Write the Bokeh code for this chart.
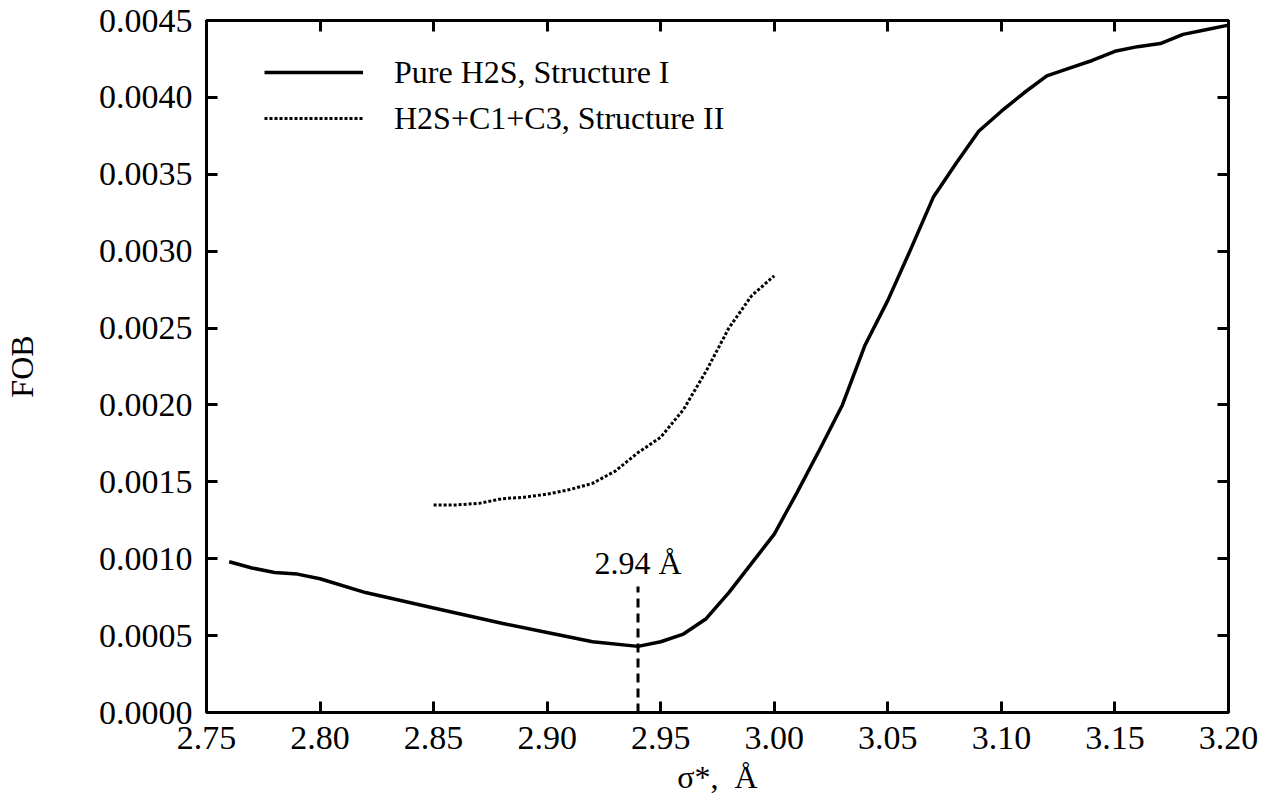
from bokeh.plotting import figure
from bokeh.models import (LinearAxis, FixedTicker, PrintfTickFormatter, CustomJSTickFormatter,
                          Range1d, Legend, LegendItem, Label, Title)
from bokeh.embed import file_html
from bokeh.resources import INLINE

# ---- data ----
x_pure = [2.76, 2.77, 2.78, 2.79, 2.80, 2.82, 2.85, 2.88, 2.90, 2.92, 2.94, 2.95, 2.96,
          2.97, 2.98, 2.99, 3.00, 3.01, 3.02, 3.03, 3.04, 3.05, 3.06, 3.07, 3.08, 3.09,
          3.10, 3.11, 3.12, 3.13, 3.14, 3.15, 3.16, 3.17, 3.18, 3.19, 3.20]
y_pure = [0.00098, 0.00094, 0.00091, 0.00090, 0.00087, 0.00078, 0.00068, 0.00058, 0.00052,
          0.00046, 0.00043, 0.00046, 0.00051, 0.00061, 0.00078, 0.00097, 0.00116, 0.00143,
          0.00171, 0.00200, 0.00239, 0.00268, 0.00301, 0.00335, 0.00357, 0.00378, 0.00391,
          0.00403, 0.00414, 0.00419, 0.00424, 0.00430, 0.00433, 0.00435, 0.00441, 0.00444,
          0.00447]
x_mix = [2.85, 2.86, 2.87, 2.88, 2.89, 2.90, 2.91, 2.92, 2.93, 2.94, 2.95, 2.96, 2.97,
         2.98, 2.99, 3.00]
y_mix = [0.00135, 0.00135, 0.00136, 0.00139, 0.00140, 0.00142, 0.00145, 0.00149, 0.00157,
         0.00169, 0.00179, 0.00197, 0.00222, 0.00250, 0.00271, 0.00284]
x_ticks = [2.75, 2.80, 2.85, 2.90, 2.95, 3.00, 3.05, 3.10, 3.15, 3.20]
y_ticks = [0.0, 0.0005, 0.0010, 0.0015, 0.0020, 0.0025, 0.0030, 0.0035, 0.0040, 0.0045]
min_x = [2.94]
min_y = [0.00082]
min_label = "2.94 Å"
series_names = ["Pure H2S, Structure I", "H2S+C1+C3, Structure II"]
x_title = "σ*,\u00a0\u00a0Å"

FONT = "Liberation Serif"

p = figure(width=1265, height=807, output_backend="svg", toolbar_location=None,
           x_range=Range1d(2.75, 3.20), y_range=Range1d(0.0, 0.0045),
           x_axis_type=None, y_axis_type=None,
           min_border_left=205, min_border_right=37, min_border_top=20, min_border_bottom=95)
p.xgrid.visible = False
p.ygrid.visible = False
p.outline_line_color = "black"
p.outline_line_width = 3
p.background_fill_color = "white"
p.border_fill_color = "white"

def style_axis(ax, show_labels):
    ax.axis_line_width = 3
    ax.axis_line_color = "black"
    ax.major_tick_in = 11
    ax.major_tick_out = 0
    ax.major_tick_line_width = 3
    ax.minor_tick_line_color = None
    ax.major_label_text_font = FONT
    ax.major_label_text_font_size = "34px"
    ax.major_label_text_color = "black"
    if not show_labels:
        ax.formatter = CustomJSTickFormatter(code="return ''")
        ax.major_label_standoff = 0

xb = LinearAxis(ticker=FixedTicker(ticks=x_ticks), formatter=PrintfTickFormatter(format="%.2f"))
style_axis(xb, True)
xb.major_label_standoff = 14
p.add_layout(xb, "below")

# x axis title (offset to the left of center as in the reference)
p.add_layout(Title(text=x_title, align="center", offset=-27, text_font=FONT,
                   text_font_size="32px", text_font_style="normal", text_color="black",
                   vertical_align="bottom", standoff=11), "below")

xt = LinearAxis(ticker=FixedTicker(ticks=x_ticks))
style_axis(xt, False)
p.add_layout(xt, "above")

yl = LinearAxis(ticker=FixedTicker(ticks=y_ticks), formatter=PrintfTickFormatter(format="%.4f"))
style_axis(yl, True)
yl.major_label_standoff = 14
yl.axis_label = "FOB"
yl.axis_label_text_font = FONT
yl.axis_label_text_font_size = "32px"
yl.axis_label_text_font_style = "normal"
yl.axis_label_text_color = "black"
yl.axis_label_standoff = 56
p.add_layout(yl, "left")

yr = LinearAxis(ticker=FixedTicker(ticks=y_ticks))
style_axis(yr, False)
p.add_layout(yr, "right")

r_pure = p.line(x_pure, y_pure, line_color="black", line_width=3.5)
r_mix = p.line(x_mix, y_mix, line_color="black", line_width=3, line_dash="3 2")

# minimum marker
p.segment(x0=min_x, y0=[0.0], x1=min_x, y1=min_y, line_color="black",
          line_width=3, line_dash="9 6")
p.add_layout(Label(x=min_x[0], y=0.00097, text=min_label, text_align="center",
                   text_baseline="alphabetic", text_font=FONT, text_font_size="32px",
                   text_color="black"))

legend = Legend(items=[LegendItem(label=series_names[0], renderers=[r_pure]),
                       LegendItem(label=series_names[1], renderers=[r_mix])],
                location=(58, 574), orientation="vertical")
legend.glyph_width = 99
legend.glyph_height = 40
legend.label_height = 40
legend.spacing = 6
legend.padding = 0
legend.margin = 0
legend.label_standoff = 31
legend.label_text_font = FONT
legend.label_text_font_size = "32px"
legend.label_text_color = "black"
legend.border_line_color = None
legend.background_fill_alpha = 0
p.add_layout(legend, "center")

open("out.html", "w").write(file_html(p, INLINE))
